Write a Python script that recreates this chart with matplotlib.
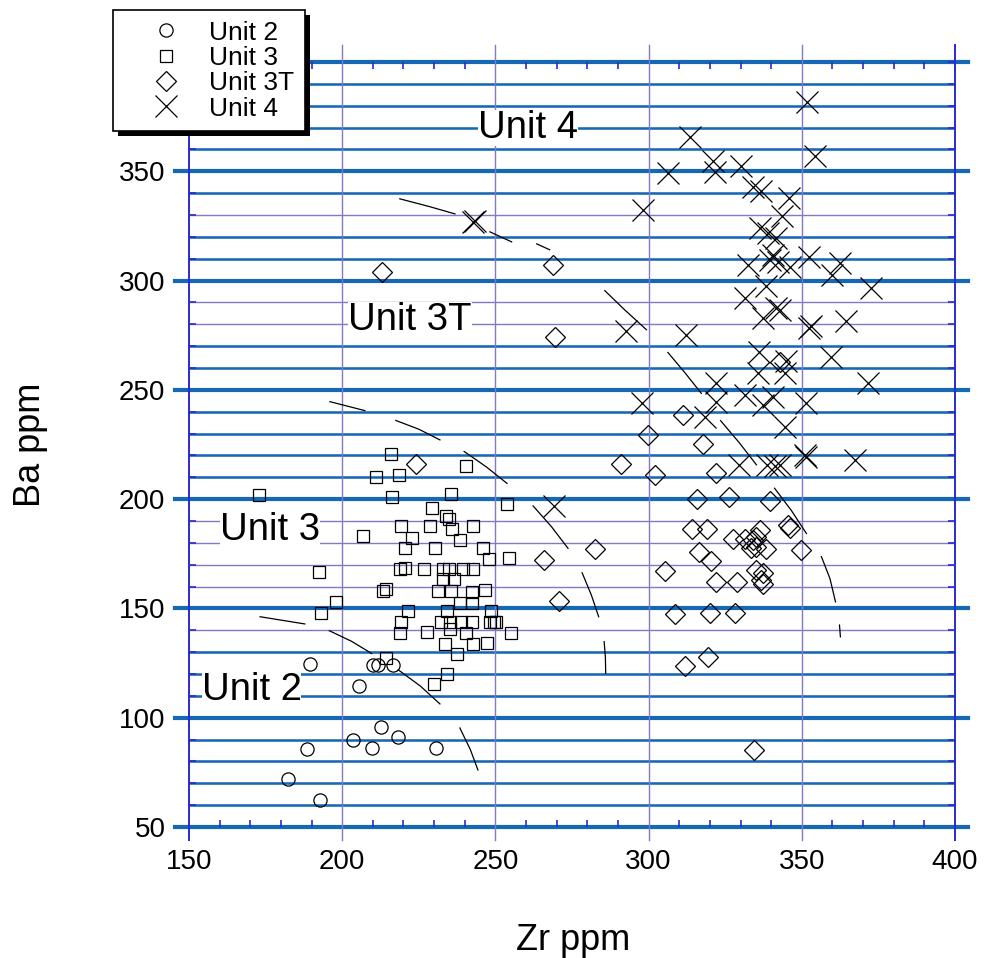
import matplotlib.pyplot as plt
from matplotlib.lines import Line2D
from matplotlib.patches import Rectangle
from matplotlib.ticker import MultipleLocator

plt.rcParams['font.family'] = ['Liberation Sans', 'DejaVu Sans']

# Zr / Ba values
unit2_zr = [182.3, 188.5, 192.7, 189.5, 205.4, 203.5, 209.7, 212.6, 210.0, 211.6, 216.5, 218.2, 230.6]
unit2_ba = [72.0, 85.7, 62.4, 124.6, 114.5, 89.8, 86.2, 95.8, 124.0, 124.0, 124.0, 91.2, 86.2]

unit3_zr = [172.7, 192.3, 197.9, 193.2, 215.9, 211.0, 218.7, 216.1, 240.4, 235.5, 253.7, 229.4,
            233.8, 234.8, 235.7, 219.2, 228.6, 242.7, 206.9, 222.8, 238.3, 220.5, 230.3, 246.0,
            247.8, 254.4, 218.9, 220.5, 226.7, 232.9, 234.9, 239.3, 242.7, 232.9, 236.5, 213.4,
            214.3, 231.3, 235.4, 242.2, 246.6, 238.4, 242.5, 221.4, 234.2, 248.7, 219.2, 232.4,
            235.1, 238.9, 242.2, 248.2, 249.5, 250.1, 218.8, 227.7, 235.1, 240.3, 255.0, 233.5,
            242.7, 247.3, 237.5, 214.3, 234.2, 230.0]
unit3_ba = [202.0, 166.8, 152.8, 148.1, 220.7, 210.0, 211.2, 201.2, 215.1, 202.2, 197.7, 195.8,
            192.3, 190.8, 186.2, 187.8, 187.8, 187.8, 183.0, 182.3, 181.4, 177.7, 177.7, 177.7,
            172.4, 172.9, 168.0, 168.5, 167.9, 167.9, 167.9, 167.9, 167.9, 163.4, 163.4, 158.0,
            158.8, 158.1, 158.1, 157.7, 158.5, 152.7, 152.7, 148.9, 148.9, 148.9, 143.9, 143.9,
            143.9, 143.9, 143.9, 143.7, 143.9, 143.9, 138.6, 139.4, 140.4, 138.6, 138.9, 133.8,
            133.8, 134.1, 129.2, 127.1, 119.8, 115.2]

unit3t_zr = [212.9, 224.0, 268.7, 269.4, 265.9, 270.7, 282.4, 291.1, 299.8, 302.2, 305.3, 308.7,
             312.0, 319.3, 311.3, 317.8, 322.1, 315.8, 326.1, 339.6, 314.3, 319.0, 327.4, 331.4,
             334.0, 335.2, 336.2, 345.5, 346.0, 316.4, 320.4, 333.5, 335.2, 338.4, 349.7, 321.9,
             328.8, 335.2, 337.3, 336.8, 337.3, 320.2, 328.2, 334.3, 342.8]
unit3t_ba = [304.0, 216.1, 307.2, 274.3, 172.2, 153.4, 177.1, 215.9, 229.4, 211.2, 167.2, 147.4,
             123.5, 127.6, 238.6, 225.3, 212.1, 199.9, 201.1, 199.2, 186.2, 186.4, 181.6, 181.9,
             181.4, 182.9, 185.9, 188.2, 186.6, 175.6, 171.8, 177.5, 178.2, 177.0, 176.8, 162.2,
             162.2, 167.6, 166.0, 163.0, 161.4, 147.8, 147.8, 85.2, 262.8]

unit4_zr = [351.7, 313.6, 354.2, 321.0, 321.6, 330.3, 306.3, 334.1, 336.8, 345.8, 298.2, 343.6,
            336.2, 338.9, 341.7, 332.4, 339.5, 340.6, 342.2, 346.0, 352.5, 362.6, 359.9, 372.7,
            338.2, 331.3, 337.3, 342.8, 341.7, 353.1, 352.3, 364.5, 312.1, 292.5, 336.0, 344.9,
            359.6, 335.7, 344.4, 322.1, 371.6, 331.3, 337.3, 340.6, 322.1, 298.0, 351.5, 318.3,
            344.4, 350.9, 351.5, 367.5, 329.4, 338.5, 341.1, 342.8, 242.6, 243.2, 269.0]
unit4_ba = [381.5, 365.9, 357.1, 354.5, 349.5, 352.2, 349.2, 343.0, 341.2, 337.7, 332.1, 329.6,
            324.0, 321.7, 319.4, 307.2, 309.5, 311.8, 308.3, 306.4, 311.0, 308.0, 302.6, 296.5,
            297.3, 292.0, 282.8, 286.6, 287.4, 279.0, 278.2, 281.7, 275.2, 277.1, 267.5, 263.0,
            265.2, 257.6, 257.6, 253.1, 253.1, 247.7, 243.1, 246.9, 244.6, 244.1, 243.8, 237.8,
            233.2, 220.3, 219.4, 218.0, 215.7, 215.7, 215.2, 215.7, 326.9, 327.4, 196.9]

# hand-drawn contour strokes: (zr points, ba points)
curves = [
    ([218.8, 228.6, 236.8], [337.4, 333.8, 330.5]),
    ([248.2, 255.3], [322.3, 317.7]),
    ([263.5, 267.7], [316.8, 314.1]),
    ([285.7, 292.2, 299.3], [295.4, 286.6, 277.5]),
    ([306.3, 312.0, 317.2], [267.1, 257.6, 248.4]),
    ([323.5, 329.6, 335.2], [235.9, 225.8, 215.7]),
    ([341.1, 346.6, 351.5], [205.0, 194.8, 184.3]),
    ([356.4, 359.2, 361.0], [173.7, 163.6, 153.0]),
    ([362.3, 362.6], [142.4, 137.0]),
    ([285.5, 285.9, 286.0], [134.8, 127.5, 120.3]),
    ([278.3, 281.3, 283.7], [166.3, 156.2, 146.2]),
    ([262.3, 268.3, 273.7], [196.9, 187.4, 177.5]),
    ([239.8, 247.0, 253.8], [221.8, 214.8, 207.2]),
    ([217.5, 225.0, 231.9], [236.0, 232.0, 227.1]),
    ([196.0, 207.4], [244.6, 240.5]),
    ([173.2, 187.8], [146.2, 142.9]),
    ([195.8, 203.0, 209.6], [139.8, 135.0, 129.4]),
    ([218.3, 225.5, 231.9], [121.9, 114.5, 106.3]),
    ([238.4, 241.8, 244.3], [95.3, 85.5, 76.1]),
]

label_names = ['Unit 4', 'Unit 3T', 'Unit 3', 'Unit 2']
label_zr = [244.3, 201.9, 160.1, 154.1]
label_ba = [365.3, 277.5, 181.4, 108.1]

BLUE = '#1667b5'
PURPLE = '#8279c6'
EDGE = '#2a2ad2'

fig = plt.figure(figsize=(9.85, 9.58), dpi=100)
ax = fig.add_axes([189 / 985, 1 - 827 / 958, 766 / 985, 765 / 958])
ax.set_xlim(150, 400)
ax.set_ylim(50, 400)

purple_only = {140, 160, 170, 180, 190, 280, 290, 330}
for v in range(60, 401, 10):
    ax.plot([150, 400], [v, v], color=PURPLE, lw=1.0, zorder=1)
    if v % 50 == 0:
        ax.plot([145.4, 404.2], [v, v], color=BLUE, lw=3.0, zorder=1.5, clip_on=False)
    elif v not in purple_only:
        ax.plot([150, 400], [v, v], color=BLUE, lw=1.8, zorder=1.4)
ax.plot([145.4, 404.2], [50, 50], color=BLUE, lw=3.0, zorder=1.5, clip_on=False)

for v in range(150, 401, 50):
    c = EDGE if v in (150, 400) else PURPLE
    lw = 1.4 if v in (150, 400) else 1.0
    ax.plot([v, v], [44.0, 407.8], color=c, lw=lw, zorder=1.6, clip_on=False)

for s in ax.spines.values():
    s.set_visible(False)

ax.set_xticks([150, 200, 250, 300, 350, 400])
ax.set_yticks([50, 100, 150, 200, 250, 300, 350])
ax.xaxis.set_minor_locator(MultipleLocator(10))
ax.yaxis.set_minor_locator(MultipleLocator(10))
ax.tick_params(which='major', length=0, labelsize=20, pad=16)
ax.tick_params(axis='y', which='major', pad=17)
ax.tick_params(which='minor', direction='in', length=5, width=1.2, color=EDGE,
               top=True, right=True)

for xs, ys in curves:
    ax.plot(xs, ys, color='black', lw=0.9, zorder=2.5)

for name, x, y in zip(label_names, label_zr, label_ba):
    ax.text(x, y, name, fontsize=27.5, ha='left', va='baseline', zorder=3,
            bbox=dict(facecolor='white', edgecolor='none', pad=0))

mk = dict(ls='none', mfc='none', mec='black')
ax.plot(unit2_zr, unit2_ba, marker='o', ms=9.5, mew=0.9, zorder=4, **mk)
ax.plot(unit3_zr, unit3_ba, marker='s', ms=8.5, mew=0.9, zorder=4, **mk)
ax.plot(unit3t_zr, unit3t_ba, marker='D', ms=10, mew=0.9, zorder=4, **mk)
ax.plot(unit4_zr, unit4_ba, marker='x', ms=16, mew=0.9, zorder=4, **mk)

fig.text(30 / 985, 1 - 445 / 958, 'Ba ppm', rotation=90, fontsize=26, ha='center', va='center')
fig.text(573 / 985, 1 - 940 / 958, 'Zr ppm', fontsize=26, ha='center', va='center')

handles = [
    Line2D([], [], marker='o', ms=9.5, mew=0.9, **mk),
    Line2D([], [], marker='s', ms=8.5, mew=0.9, **mk),
    Line2D([], [], marker='D', ms=10, mew=0.9, **mk),
    Line2D([], [], marker='x', ms=16, mew=0.9, **mk),
]
leg = fig.legend(handles, ['Unit 2', 'Unit 3', 'Unit 3T', 'Unit 4'],
                 loc='upper left', bbox_to_anchor=(113 / 985, 1 - 10 / 958),
                 fontsize=19, frameon=True, fancybox=False, edgecolor='black',
                 framealpha=1, labelspacing=0.05, handlelength=3.2, handletextpad=0.05,
                 borderpad=0.4, borderaxespad=0)
leg.get_frame().set_linewidth(1.2)
leg.set_zorder(10)

fig.canvas.draw()
bb = leg.get_window_extent()
shadow = Rectangle((bb.x0 + 5, bb.y0 - 5), bb.width, bb.height, transform=None,
                   facecolor='black', edgecolor='none', zorder=9)
fig.add_artist(shadow)

fig.savefig('out.png', dpi=100)
